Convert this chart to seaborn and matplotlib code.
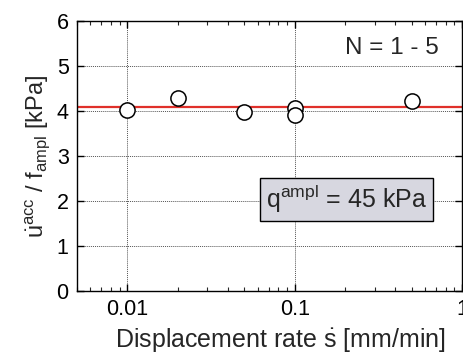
import matplotlib
matplotlib.use("Agg")
import matplotlib.pyplot as plt
import seaborn as sns
import pandas as pd
from matplotlib.ticker import LogLocator, NullFormatter, FixedLocator, FixedFormatter

rate = [0.01, 0.02, 0.05, 0.1, 0.1, 0.5]
ratio = [4.02, 4.30, 3.98, 4.06, 3.91, 4.22]
mean_line = 4.1
xticks = [0.01, 0.1, 1]
xticklabels = ["0.01", "0.1", "1"]
yticks = [0, 1, 2, 3, 4, 5, 6]

sns.set_theme(style="ticks")
plt.rcParams['font.family'] = ['Liberation Sans', 'DejaVu Sans']
plt.rcParams['mathtext.fontset'] = 'custom'
plt.rcParams['mathtext.rm'] = 'Liberation Sans'
plt.rcParams['mathtext.it'] = 'Liberation Sans'
plt.rcParams['mathtext.bf'] = 'Liberation Sans:bold'

fig = plt.figure(figsize=(4.64, 3.55), dpi=100)
ax = fig.add_axes([77/464, 1 - 291/355, (462 - 77)/464, (291 - 21)/355])

df = pd.DataFrame({"rate": rate, "ratio": ratio})
ax.set_xscale("log")
ax.axhline(mean_line, color="#e0302a", lw=1.6, zorder=2)
sns.scatterplot(data=df, x="rate", y="ratio", ax=ax, s=120, facecolor="white",
                edgecolor="black", linewidth=1.1, zorder=3, legend=False)

ax.set_xlim(0.005, 1)
ax.set_ylim(0, 6)
ax.xaxis.set_major_locator(FixedLocator(xticks))
ax.xaxis.set_major_formatter(FixedFormatter(xticklabels))
ax.xaxis.set_minor_locator(LogLocator(base=10, subs=range(2, 10)))
ax.xaxis.set_minor_formatter(NullFormatter())
ax.set_yticks(yticks)

ax.grid(True, which="major", color="#555555", ls=(0, (1, 1)), lw=0.7)
ax.set_axisbelow(True)
for s in ax.spines.values():
    s.set_linewidth(1.0)
    s.set_color("black")
ax.tick_params(which="major", direction="in", length=5, width=1.0, top=True, right=True,
               labelsize=15.5, pad=6, colors="black")
ax.tick_params(which="minor", direction="in", length=3, width=0.8, top=True, right=True)

ax.set_xlabel(r"Displacement rate $\dot{\mathrm{s}}$ [mm/min]", fontsize=18, labelpad=5)
ax.xaxis.set_label_coords((280 - 77) / 385, -0.13)
ax.set_ylabel(r"$\dot{\mathrm{u}}^{\mathrm{acc}}$ / f$_{\mathrm{ampl}}$ [kPa]", fontsize=17, labelpad=3)

ax.text(0.94, 0.9, "N = 1 - 5", transform=ax.transAxes, ha="right", va="center", fontsize=17.5)
ax.text(0.70, 0.34, r"q$^{\mathrm{ampl}}$ = 45 kPa", transform=ax.transAxes, ha="center",
        va="center", fontsize=18,
        bbox=dict(boxstyle="square,pad=0.22", facecolor="#d7d7e0", edgecolor="black", lw=1.0))

fig.savefig("out.png", dpi=100)
